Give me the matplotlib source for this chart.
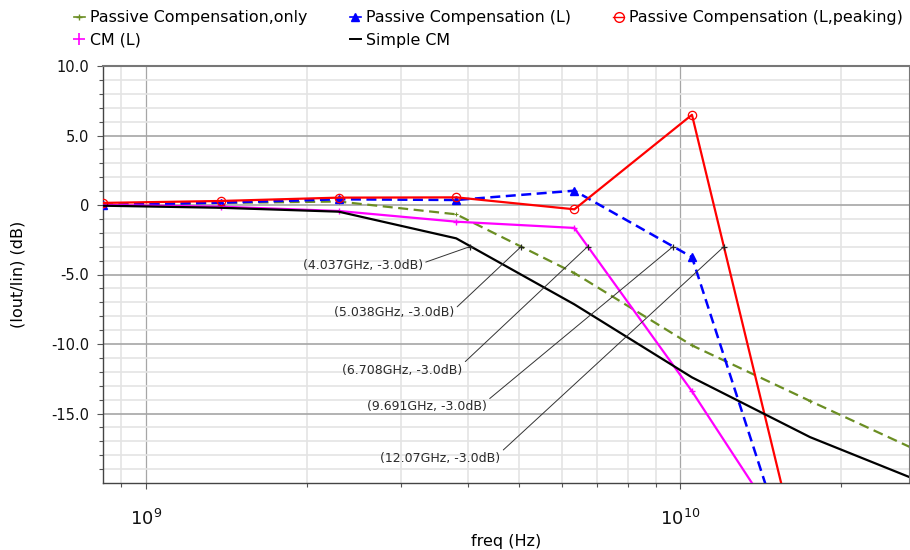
import matplotlib
matplotlib.use("Agg")
import matplotlib.pyplot as plt
from matplotlib.lines import Line2D
from matplotlib.ticker import FixedLocator, LogLocator, FuncFormatter, NullFormatter

# Sweep frequencies (Hz) and magnitude responses (dB)
freq_hz = [8.318e8, 1.382e9, 2.296e9, 3.810e9, 6.340e9, 1.052e10, 1.750e10, 2.904e10]
passive_only_db = [0.0, 0.15, 0.25, -0.67, -4.9, -10.1, -14.1, -18.0]
passive_l_db = [0.0, 0.17, 0.41, 0.36, 1.03, -3.75, -30.0]
passive_l_peaking_db = [0.15, 0.29, 0.53, 0.55, -0.31, 6.49, -28.6]
cm_l_db = [0.0, -0.12, -0.43, -1.2, -1.65, -13.4, -26.4]
simple_cm_db = [-0.05, -0.2, -0.48, -2.4, -7.15, -12.4, -16.7, -20.1]

# -3 dB bandwidth markers
bw_freq_hz = [4.037e9, 5.038e9, 6.708e9, 9.691e9, 12.07e9]
bw_level_db = [-3.0, -3.0, -3.0, -3.0, -3.0]

y_ticks = [-15, -10, -5, 0, 5, 10]

plt.rcParams["font.family"] = ["DejaVu Sans"]

fig = plt.figure(figsize=(9.1, 5.5), dpi=100)
ax = fig.add_axes([103 / 910, 1 - 483 / 550, (909 - 103) / 910, (483 - 66) / 550])

ax.set_xscale("log")
ax.set_xlim(freq_hz[0], 2.68e10)
ax.set_ylim(-20, 10)

# Grid
ax.yaxis.set_major_locator(FixedLocator(y_ticks))
ax.yaxis.set_minor_locator(FixedLocator([v for v in range(-19, 10) if v % 5 != 0]))
ax.xaxis.set_major_locator(LogLocator(base=10, numticks=10))
ax.xaxis.set_minor_locator(LogLocator(base=10, subs=range(2, 10), numticks=20))
ax.xaxis.set_minor_formatter(NullFormatter())
ax.grid(which="major", axis="y", color="#a6a6a6", linewidth=1.2, zorder=0)
ax.grid(which="major", axis="x", color="#a6a6a6", linewidth=0.9, zorder=0)
ax.grid(which="minor", color="#e4e4e4", linewidth=1.2, zorder=0)
ax.set_axisbelow(True)

ax.yaxis.set_major_formatter(FuncFormatter(lambda v, p: "0" if v == 0 else f"{v:.1f}"))
ax.tick_params(axis="both", which="major", direction="out", length=4, width=0.8,
               color="#555555", labelcolor="#111111")
ax.tick_params(axis="both", which="minor", direction="out", length=3, width=0.8,
               color="#555555")
ax.tick_params(axis="y", labelsize=10.5, pad=6)
ax.tick_params(axis="x", labelsize=13, pad=15)

for side in ("left", "bottom"):
    ax.spines[side].set_color("#444444")
    ax.spines[side].set_linewidth(1.0)
ax.spines["top"].set_color("#777777")
ax.spines["top"].set_linewidth(1.5)
ax.spines["right"].set_color("#777777")

# Curves
n = len
ax.plot(freq_hz[:n(passive_only_db)], passive_only_db, color="#6b8e23", lw=1.6,
        ls=(0, (4.5, 2.5)), marker="+", ms=3, mew=0.8, zorder=3)
ax.plot(freq_hz[:n(passive_l_db)], passive_l_db, color="#0000ff", lw=1.8,
        ls=(0, (4, 2.2)), marker="^", ms=5.5, zorder=4)
ax.plot(freq_hz[:n(passive_l_peaking_db)], passive_l_peaking_db, color="#ff0000",
        lw=1.6, marker="o", ms=6, mfc="none", mew=0.9, zorder=5)
ax.plot(freq_hz[:n(cm_l_db)], cm_l_db, color="#ff00ff", lw=1.6, marker="+",
        ms=5, mew=1, zorder=4)
ax.plot(freq_hz[:n(simple_cm_db)], simple_cm_db, color="#000000", lw=1.6, zorder=6)

# Bandwidth annotations (text offsets in points)
label_offsets = [(-33.6, -13.2), (-48.0, -47.5), (-90.0, -88.8),
                 (-133.9, -115.2), (-160.8, -152.4)]
label_relpos = [(1.0, 0.65), (1.0, 0.75), (1.0, 0.95), (1.0, 0.95), (1.0, 0.95)]
for f, db, off, rp in zip(bw_freq_hz, bw_level_db, label_offsets, label_relpos):
    ax.plot([f], [db], marker="+", color="#222222", ms=5, mew=0.9, zorder=7)
    ax.annotate(f"({f / 1e9:.4g}GHz, {db:.1f}dB)", xy=(f, db), xytext=off,
                textcoords="offset points", ha="right", va="center",
                fontsize=9, color="#2a2a2a", zorder=8,
                arrowprops=dict(arrowstyle="-", color="#333333", lw=0.7,
                                shrinkA=0, shrinkB=0, relpos=rp))

ax.set_xlabel("freq (Hz)", fontsize=11.5, labelpad=3)
ax.set_ylabel("(Iout/Iin) (dB)", fontsize=11.5, labelpad=18)

# Legend
handles = [
    Line2D([], [], color="#6b8e23", lw=1.2, marker="+", ms=4),
    Line2D([], [], color="#ff00ff", lw=0, marker="+", ms=9, mew=1.2),
    Line2D([], [], color="#0000ff", lw=1.2, marker="^", ms=6),
    Line2D([], [], color="#000000", lw=1.4),
    Line2D([], [], color="#ff0000", lw=1.0, marker="o", ms=7, mfc="none"),
]
labels = ["Passive Compensation,only", "CM (L)", "Passive Compensation (L)",
          "Simple CM", "Passive Compensation (L,peaking)"]
fig.legend(handles, labels, ncol=3, loc="upper left",
           bbox_to_anchor=(62.7 / 910, 1 + 1 / 550), frameon=False, fontsize=11.4,
           handlelength=0.7, handletextpad=0.3, columnspacing=2.7,
           labelspacing=0.5, borderpad=0.2)

fig.savefig("out.png", dpi=100)
